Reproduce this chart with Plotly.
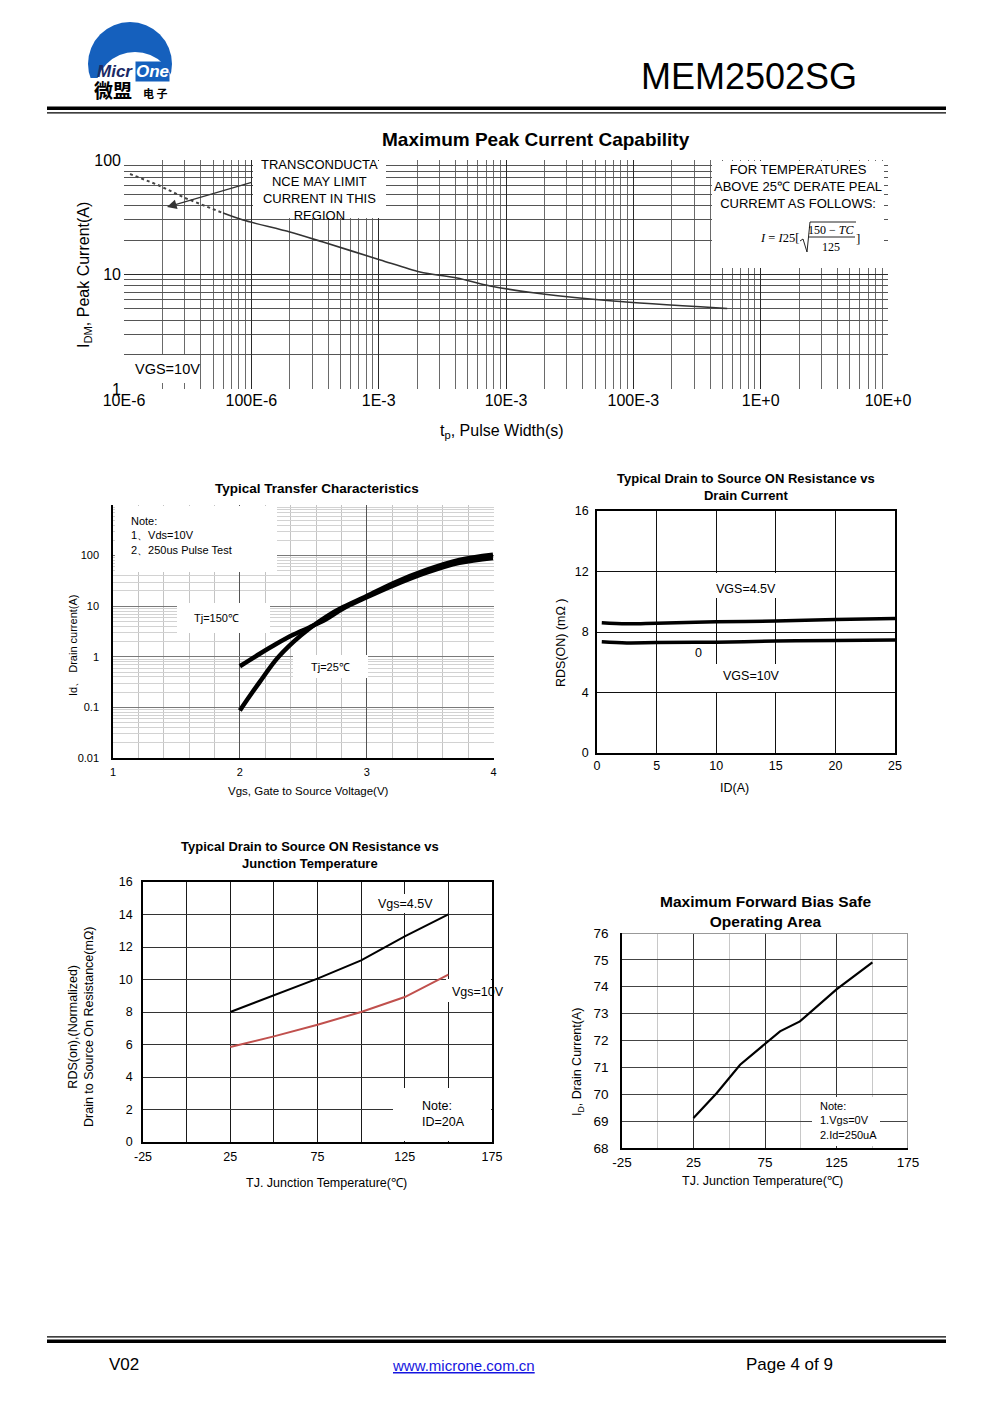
import plotly.graph_objects as go

# ---------------- data ----------------
# Maximum Peak Current Capability
peak_t_dotted = [1.115e-5, 1.85e-5, 3.01e-5, 4.49e-5, 6.0e-5]
peak_i_dotted = [75.5, 60.5, 46.6, 38.9, 34.4]
peak_t = [6.0e-5, 8.61e-5, 2.01e-4, 3.66e-4, 1.03e-3, 2.11e-3, 4.13e-3, 7.50e-3,
          1.95e-2, 6.93e-2, 0.481, 0.546]
peak_i = [34.4, 29.9, 23.5, 19.2, 13.4, 10.5, 9.31, 7.94, 6.76, 5.87, 5.09, 5.05]
peak_x_ticks = [1e-5, 1e-4, 1e-3, 1e-2, 1e-1, 1e0, 1e1]
peak_x_labels = ["10E-6", "100E-6", "1E-3", "10E-3", "100E-3", "1E+0", "10E+0"]
peak_y_ticks = [1, 10, 100]
peak_y_labels = ["1", "10", "100"]

# Typical Transfer Characteristics
vgs_150 = [2.0, 2.157, 2.289, 2.42, 2.551, 2.682, 2.814, 3.0, 3.207, 3.47, 3.73, 3.995]
id_150 = [0.65, 1.15, 1.81, 2.72, 3.85, 5.6, 9.0, 15.0, 25.5, 46, 72, 90]
vgs_25 = [2.0, 2.079, 2.157, 2.289, 2.42, 2.551, 2.682, 2.814, 3.0, 3.207, 3.47, 3.73, 3.995]
id_25 = [0.087, 0.17, 0.32, 0.90, 1.95, 3.68, 6.25, 9.6, 15.8, 28.4, 52, 82, 104]
transfer_x_ticks = [1, 2, 3, 4]
transfer_y_ticks = [0.01, 0.1, 1, 10, 100]
transfer_y_labels = ["0.01", "0.1", "1", "10", "100"]

# Typical RDS(on) vs Drain Current
id_a = [0.4, 2.5, 5, 10, 15, 20, 25.2]
rds_vgs45 = [8.61, 8.54, 8.58, 8.67, 8.72, 8.83, 8.90]
rds_vgs10 = [7.35, 7.28, 7.30, 7.33, 7.40, 7.44, 7.48]

# Typical RDS(on) vs Junction Temperature
tj_c = [25, 50, 75, 100, 125, 150]
rds_tj_vgs45 = [8.0, 9.03, 10.05, 11.18, 12.66, 14.01]
rds_tj_vgs10 = [5.85, 6.5, 7.22, 8.0, 8.92, 10.3]
tj_ticks = [-25, 25, 75, 125, 175]
tj_labels = ["-25", "25", "75", "125", "175"]

# Maximum Forward Bias Safe Operating Area
soa_tj = [25, 41.3, 57.6, 75.5, 85.5, 99.4, 125, 150.1]
soa_id = [69.12, 70.05, 71.1, 71.9, 72.34, 72.71, 73.9, 74.91]

# ---------------- helpers ----------------
OFF = 8                     # page body margin of the html page
W, H = 991 - OFF, 1403 - OFF
SANS = "Liberation Sans, Arial, sans-serif"
SERIF = "Liberation Serif, Times New Roman, serif"
NARROW = "Liberation Sans Narrow, Arial Narrow, Liberation Sans, sans-serif"


def px(x):
    return (x - OFF) / W


def py(y):
    return 1 - (y - OFF) / H


def xdom(l, r):
    return [px(l), px(r)]


def ydom(t, b):
    return [py(b), py(t)]


annotations = []
shapes = []


def ann(text, x, y, size=12, xanchor="center", yanchor="middle", color="black",
        family=SANS, align="center", angle=0, **kw):
    annotations.append(dict(text=text, x=px(x), y=py(y), xref="paper", yref="paper",
                            showarrow=False, xanchor=xanchor, yanchor=yanchor,
                            align=align, textangle=angle,
                            font=dict(size=size, color=color, family=family), **kw))


def white_box(x0, y0, x1, y1):
    shapes.append(dict(type="rect", xref="paper", yref="paper", x0=px(x0), x1=px(x1),
                       y0=py(y1), y1=py(y0), fillcolor="white", line=dict(width=0),
                       layer="above"))


def hline(x0, x1, y, width=1, color="black"):
    shapes.append(dict(type="line", xref="paper", yref="paper", x0=px(x0), x1=px(x1),
                       y0=py(y), y1=py(y), line=dict(width=width, color=color)))


def vline(x, y0, y1, width=1, color="black"):
    shapes.append(dict(type="line", xref="paper", yref="paper", x0=px(x), x1=px(x),
                       y0=py(y0), y1=py(y1), line=dict(width=width, color=color)))


def rect(x0, y0, x1, y1, color):
    shapes.append(dict(type="rect", xref="paper", yref="paper", x0=px(x0), x1=px(x1),
                       y0=py(y1), y1=py(y0), fillcolor=color, line=dict(width=0),
                       layer="above"))


fig = go.Figure()

# ---------------- traces ----------------
fig.add_trace(go.Scatter(x=peak_t_dotted, y=peak_i_dotted, mode="lines", xaxis="x", yaxis="y",
                         line=dict(color="#444", width=2, dash="dot")))
fig.add_trace(go.Scatter(x=peak_t, y=peak_i, mode="lines", xaxis="x", yaxis="y",
                         line=dict(color="#333", width=1.6, shape="spline", smoothing=0.8)))

fig.add_trace(go.Scatter(x=vgs_150, y=id_150, mode="lines", xaxis="x2", yaxis="y2",
                         line=dict(color="black", width=4.5, shape="spline")))
fig.add_trace(go.Scatter(x=vgs_25, y=id_25, mode="lines", xaxis="x2", yaxis="y2",
                         line=dict(color="black", width=4.5, shape="spline")))

fig.add_trace(go.Scatter(x=id_a, y=rds_vgs45, mode="lines", xaxis="x3", yaxis="y3",
                         line=dict(color="black", width=3.5, shape="spline")))
fig.add_trace(go.Scatter(x=id_a, y=rds_vgs10, mode="lines", xaxis="x3", yaxis="y3",
                         line=dict(color="black", width=3.5, shape="spline")))

fig.add_trace(go.Scatter(x=tj_c, y=rds_tj_vgs45, mode="lines", xaxis="x4", yaxis="y4",
                         line=dict(color="black", width=2)))
fig.add_trace(go.Scatter(x=tj_c, y=rds_tj_vgs10, mode="lines", xaxis="x4", yaxis="y4",
                         line=dict(color="#c0504d", width=2)))

fig.add_trace(go.Scatter(x=soa_tj, y=soa_id, mode="lines", xaxis="x5", yaxis="y5",
                         line=dict(color="black", width=2.2)))

# ---------------- axes ----------------
minor_x1 = [k * 10.0 ** e for e in range(-5, 1) for k in range(2, 10)]
minor_y1 = [k * 10.0 ** e for e in range(0, 2) for k in range(2, 10)]
minor_y2 = [k * 10.0 ** e for e in range(-2, 3) for k in range(2, 10)]

tf16 = dict(size=16, color="black", family=SANS)
tf11 = dict(size=11, color="black", family=SANS)
tf12 = dict(size=12.5, color="black", family=SANS)
tf13 = dict(size=13.5, color="black", family=SANS)

fig.update_layout(
    xaxis=dict(domain=xdom(124, 888), anchor="y", type="log", range=[-5, 1],
               tickmode="array", tickvals=peak_x_ticks, ticktext=peak_x_labels,
               tickfont=tf16, showgrid=True, gridcolor="#2a2a2a", gridwidth=1,
               zeroline=False, showline=False, ticks="", automargin=False,
               minor=dict(tickmode="array", tickvals=minor_x1, showgrid=True,
                          gridcolor="#6a6a6a", gridwidth=1, ticks="")),
    yaxis=dict(domain=ydom(160, 389), anchor="x", type="log", range=[0, 2],
               tickmode="array", tickvals=peak_y_ticks, ticktext=peak_y_labels,
               tickfont=tf16, showgrid=True, gridcolor="#2a2a2a", gridwidth=1,
               zeroline=False, showline=False, ticks="", ticklabelstandoff=2,
               automargin=False,
               minor=dict(tickmode="array", tickvals=minor_y1, showgrid=True,
                          gridcolor="#555", gridwidth=1, ticks="")),
    xaxis2=dict(domain=xdom(113, 494), anchor="y2", range=[1, 4.003],
                tickmode="array", tickvals=transfer_x_ticks, tickfont=tf11,
                showgrid=True, gridcolor="#555", zeroline=False,
                showline=True, linecolor="black", linewidth=1.5, ticks="",
                ticklabelstandoff=3, automargin=False,
                minor=dict(dtick=0.2, tick0=1, showgrid=True, gridcolor="#c4c4c4", ticks="")),
    yaxis2=dict(domain=ydom(505, 758), anchor="x2", type="log", range=[-2, 3],
                tickmode="array", tickvals=transfer_y_ticks, ticktext=transfer_y_labels,
                tickfont=tf11, showgrid=True, gridcolor="#7a7a7a", zeroline=False,
                showline=True, linecolor="black", linewidth=1.5, ticks="",
                ticklabelstandoff=10, automargin=False,
                minor=dict(tickmode="array", tickvals=minor_y2, showgrid=True,
                           gridcolor="#d2d2d2", ticks="")),
    xaxis3=dict(domain=xdom(597, 895), anchor="y3", range=[0, 25], dtick=5,
                tickfont=tf12, showgrid=True, gridcolor="#111", zeroline=False,
                showline=True, mirror=True, linecolor="black", linewidth=1.5, ticks="",
                automargin=False),
    yaxis3=dict(domain=ydom(511, 753), anchor="x3", range=[0, 16], dtick=4,
                tickfont=tf12, showgrid=True, gridcolor="#111", zeroline=False,
                showline=True, mirror=True, linecolor="black", linewidth=1.5, ticks="",
                ticklabelstandoff=4, automargin=False),
    xaxis4=dict(domain=xdom(143, 492), anchor="y4", range=[-25, 175],
                tickmode="array", tickvals=tj_ticks, ticktext=tj_labels, tickfont=tf12,
                showgrid=True, gridcolor="#1a1a1a", zeroline=False,
                showline=True, mirror=True, linecolor="black", linewidth=1.5, ticks="",
                ticklabelstandoff=2, automargin=False,
                minor=dict(dtick=25, tick0=-25, showgrid=True, gridcolor="#1a1a1a", ticks="")),
    yaxis4=dict(domain=ydom(882, 1142), anchor="x4", range=[0, 16], dtick=2,
                tickfont=tf12, showgrid=True, gridcolor="#333", zeroline=False,
                showline=True, mirror=True, linecolor="black", linewidth=1.5, ticks="",
                ticklabelstandoff=6, automargin=False),
    xaxis5=dict(domain=xdom(622, 908), anchor="y5", range=[-25, 175],
                tickmode="array", tickvals=tj_ticks, ticktext=tj_labels, tickfont=tf13,
                showgrid=True, gridcolor="#333", zeroline=False,
                showline=True, linecolor="black", linewidth=1.5, ticks="",
                ticklabelstandoff=1, automargin=False,
                minor=dict(dtick=25, tick0=-25, showgrid=True, gridcolor="#c8c8c8", ticks="")),
    yaxis5=dict(domain=ydom(933, 1148), anchor="x5", range=[68, 76], dtick=1,
                tickfont=tf13, showgrid=True, gridcolor="#444", zeroline=False,
                showline=True, linecolor="black", linewidth=1.5, ticks="",
                ticklabelstandoff=9, automargin=False),
)

# ---------------- header ----------------
# logo
shapes.append(dict(type="circle", xref="paper", yref="paper", x0=px(88), x1=px(172),
                   y0=py(106), y1=py(22), fillcolor="#1560bd", line=dict(width=0), layer="above"))
shapes.append(dict(type="circle", xref="paper", yref="paper", x0=px(95), x1=px(175),
                   y0=py(132), y1=py(52), fillcolor="white", line=dict(width=0), layer="above"))
rect(84, 78, 178, 104, "white")
ann("<b><i>Micr</i></b>", 135, 71, size=17, xanchor="right", color="#1b2a66")
ann("<b><i>One</i></b>", 135, 71, size=17, xanchor="left", color="white",
    bgcolor="#1560bd", borderpad=0)
ann("<b>微盟</b>", 92, 90, size=19, xanchor="left", family="Noto Sans CJK SC")
ann("<b>电 子</b>", 141, 93, size=11, xanchor="left", family="Noto Sans CJK SC")

ann("MEM2502SG", 749, 77, size=36)
rect(47, 106.5, 946, 110, "black")
hline(47, 946, 112.8, width=1.2)

# ---------------- footer ----------------
hline(47, 946, 1336.8, width=1.2)
rect(47, 1339.5, 946, 1343, "black")
ann("V02", 107, 1364, size=17, xanchor="left", family=NARROW)
ann("<u>www.microne.com.cn</u>", 463, 1365, size=15, color="#1515e0", family=NARROW)
ann("Page 4 of 9", 789, 1364, size=17, family=NARROW)

# ---------------- chart 1 annotations ----------------
ann("<b>Maximum Peak Current Capability</b>", 536, 140, size=19)
ann("I<sub>DM</sub>, Peak Current(A)", 84, 275, size=16, angle=-90)
ann("t<sub>p</sub>, Pulse Width(s)", 502, 432, size=16)
white_box(253, 161, 386, 218)
white_box(712, 161, 884, 268)
white_box(125, 355, 200, 383)
ann("TRANSCONDUCTA<br>NCE MAY LIMIT<br>CURRENT IN THIS<br>REGION", 319, 190, size=13)
ann("FOR TEMPERATURES<br>ABOVE 25℃ DERATE PEAL<br>CURREMT AS FOLLOWS:", 798, 187, size=13)
ann("VGS=10V", 167, 369, size=14.5)
annotations.append(dict(x=px(167), y=py(207), xref="paper", yref="paper", ax=86, ay=-25,
                        axref="pixel", ayref="pixel", showarrow=True, arrowhead=2,
                        arrowsize=1.6, arrowwidth=1.2, arrowcolor="#333", text=""))
# derating formula
ann("<i>I</i> = <i>I</i>25[", 801, 238, size=12.5, xanchor="right", family=SERIF)
shapes.append(dict(type="path", xref="paper", yref="paper",
                   path=(f"M {px(800)},{py(241)} L {px(803)},{py(239)} L {px(807)},{py(252)} "
                         f"L {px(810)},{py(222)} L {px(856)},{py(222)}"),
                   line=dict(color="#222", width=1), layer="above"))
hline(809, 855, 237, width=1, color="#222")
ann("150 − <i>TC</i>", 831, 229.5, size=12, family=SERIF)
ann("125", 831, 247, size=12, family=SERIF)
ann("]", 858, 238, size=13, family=SERIF)

# ---------------- chart 2 annotations ----------------
ann("<b>Typical Transfer Characteristics</b>", 317, 488, size=13.5)
ann("Id、 Drain current(A)", 73, 646, size=11, angle=-90)
ann("Vgs, Gate to Source Voltage(V)", 308, 791, size=11.5)
white_box(115, 506, 277, 572)
white_box(177, 603, 270, 633)
white_box(293, 655, 368, 678)
ann("Note:<br>1、Vds=10V<br>2、250us Pulse Test", 129, 535, size=11, xanchor="left", align="left")
ann("Tj=150℃", 216, 618, size=11)
ann("Tj=25℃", 330, 667, size=11)

# ---------------- chart 3 annotations ----------------
ann("<b>Typical Drain to Source ON Resistance vs<br>Drain Current</b>", 746, 487, size=13)
ann("RDS(ON) (mΩ )", 561, 643, size=12.5, angle=-90)
ann("ID(A)", 734, 788, size=12.5)
white_box(705, 573, 786, 598)
white_box(705, 664, 790, 692)
ann("VGS=4.5V", 746, 589, size=12.5)
ann("0", 698, 653, size=12.5)
ann("VGS=10V", 751, 676, size=12.5)

# ---------------- chart 4 annotations ----------------
ann("<b>Typical Drain to Source ON Resistance vs<br>Junction Temperature</b>", 310, 855, size=13)
ann("RDS(on),(Normalized)<br>Drain to Source On Resistance(mΩ)", 81, 1027, size=12.5, angle=-90)
ann("TJ. Junction Temperature(℃)", 326, 1183, size=12.5)
white_box(372, 894, 438, 913)
white_box(446, 979, 491, 1002)
white_box(393, 1088, 491, 1141)
ann("Vgs=4.5V", 405, 904, size=12.5)
ann("Vgs=10V", 478, 992, size=12.5)
ann("Note:<br>ID=20A", 420, 1114, size=12.5, xanchor="left", align="left")

# ---------------- chart 5 annotations ----------------
ann("<b>Maximum Forward Bias Safe<br>Operating Area</b>", 765, 911, size=15.5)
ann("I<sub>D</sub>, Drain Current(A)", 578, 1062, size=12.5, angle=-90)
ann("TJ. Junction Temperature(℃)", 762, 1181, size=12.5)
hline(622, 908, 933.5, width=1, color="#999")
vline(907.5, 933, 1148, width=1, color="#999")
white_box(812, 1097, 880, 1146)
ann("Note:<br>1.Vgs=0V<br>2.Id=250uA", 818, 1120, size=11, xanchor="left", align="left")

fig.update_layout(
    width=W, height=H, margin=dict(l=0, r=0, t=0, b=0, pad=0, autoexpand=False),
    paper_bgcolor="white", plot_bgcolor="white", showlegend=False,
    font=dict(family=SANS, color="black"),
    annotations=annotations, shapes=shapes,
)

fig.write_html("out.html", config={"displayModeBar": False})
